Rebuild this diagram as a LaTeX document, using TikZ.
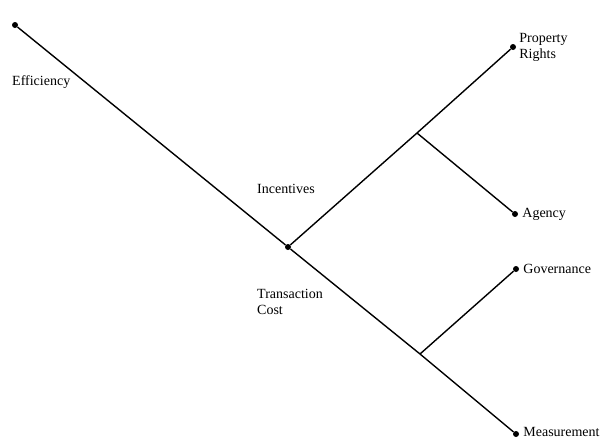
\documentclass[tikz,border=0pt]{standalone}
\usepackage{fontspec}
\setmainfont{Liberation Serif}
\usetikzlibrary{positioning}

\tikzset{
  dot/.style={circle, fill=black, inner sep=0pt, minimum size=6pt},
  lbl/.style={inner sep=0pt, align=left, font=\fontsize{14}{16}\selectfont},
  branch/.style={line width=1.4pt}
}

\begin{document}
\begin{tikzpicture}[x=1pt, y=-1pt]

\useasboundingbox (0,0) rectangle (603,439);

% end points
\node[dot] (eff) at (15,25) {};
\node[dot] (tc) at (288,247) {};
\node[dot] (pr) at (513,47) {};
\node[dot] (ag) at (515,214) {};
\node[dot] (gov) at (516,269) {};
\node[dot] (meas) at (516,434) {};

% forks
\coordinate (up) at (417,133);
\coordinate (low) at (420,354);

\draw[branch] (eff) -- (tc);
\draw[branch] (tc) -- (up) -- (pr);
\draw[branch] (up) -- (ag);
\draw[branch] (tc) -- (low) -- (meas);
\draw[branch] (low) -- (gov);

% labels
\node[lbl, anchor=west] (effl) at (12,82) {Efficiency};
\node[lbl, anchor=west] (incl) at (257,189) {Incentives};
\node[lbl, anchor=west] (tcl) at (257,302) {Transaction\\Cost};

\node[lbl, right=3pt of pr] (prl) {Property\\Rights};
\node[lbl, right=4pt of ag] (agl) {Agency};
\node[lbl, right=4pt of gov] (govl) {Governance};
\node[lbl, right=4pt of meas, yshift=2pt] (measl) {Measurement};

\end{tikzpicture}
\end{document}
